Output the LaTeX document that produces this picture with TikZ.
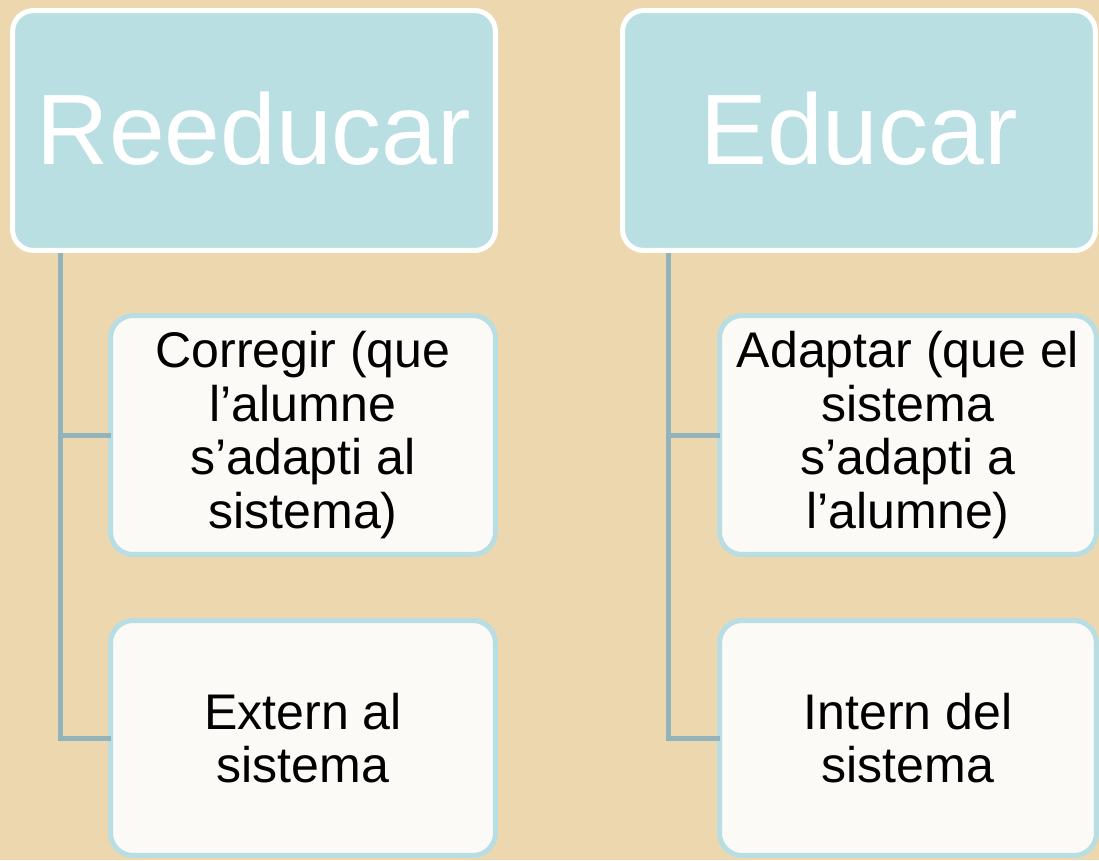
\documentclass[tikz,border=0pt]{standalone}
\usepackage{fontspec}
\setmainfont{Liberation Sans}
\definecolor{bg}{HTML}{ECD7AF}
\definecolor{hdrfill}{HTML}{BADFE3}
\definecolor{childfill}{HTML}{FBFAF6}
\definecolor{childborder}{HTML}{B8DEE3}
\definecolor{conn}{HTML}{93B3BB}
\tikzset{
  hdr/.style={draw=white, line width=0.1cm, fill=hdrfill, rounded corners=0.42cm,
    text=white, font=\fontsize{57}{60}\selectfont, inner sep=0pt, outer sep=0pt,
    minimum height=4.8cm},
  child/.style={draw=childborder, line width=0.1cm, fill=childfill, rounded corners=0.45cm,
    text=black, font=\fontsize{28.5}{30.5}\selectfont, align=center, inner sep=0pt, outer sep=0pt,
    minimum height=4.78cm},
  link/.style={draw=conn, line width=0.1cm}
}
\begin{document}
\begin{tikzpicture}[x=0.02cm,y=-0.02cm]
\useasboundingbox (0,0) rectangle (1099,860);
\fill[bg] (0,0) rectangle (1099,860);
% headers
\node[hdr, minimum width=9.66cm] (h1) at (254,130.5) {\raisebox{3pt}{Reeducar}};
\node[hdr, minimum width=9.46cm] (h2) at (859,130.5) {\raisebox{3pt}{Educar}};
% children
\node[child, minimum width=7.7cm] (c1) at (303,435) {Corregir (que\\l’alumne\\s’adapti al\\sistema)};
\node[child, minimum width=7.7cm, minimum height=4.7cm] (c2) at (303,738) {Extern al\\sistema};
\node[child, minimum width=7.54cm] (d1) at (908,435) {Adaptar (que el\\sistema\\s’adapti a\\l’alumne)};
\node[child, minimum width=7.54cm, minimum height=4.7cm] (d2) at (908,738) {Intern del\\sistema};
% connector anchors
\coordinate (l0) at (60,253);
\coordinate (r0) at (668,253);
\draw[link] (l0) |- (c1.west);
\draw[link] (l0) |- (c2.west);
\draw[link] (r0) |- (d1.west);
\draw[link] (r0) |- (d2.west);
\end{tikzpicture}
\end{document}
